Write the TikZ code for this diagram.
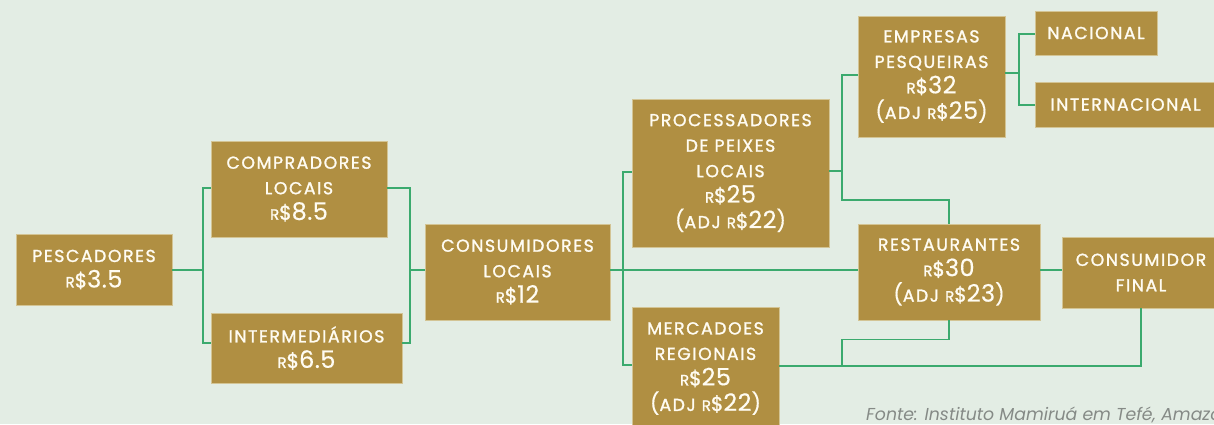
\documentclass[tikz,border=0pt]{standalone}
\usepackage{fontspec}
\setmainfont{Poppins}
\definecolor{bg}{HTML}{E3EDE4}
\definecolor{gold}{HTML}{B08F42}
\definecolor{goldedge}{HTML}{D3C494}
\definecolor{link}{HTML}{3BAA6E}
\definecolor{txt}{HTML}{FFFCF2}
\definecolor{src}{HTML}{858A86}
\newcommand\capsfont{\fontsize{17.3}{25.5}\selectfont\addfontfeature{LetterSpace=9,FakeBold=1.4}}
\newcommand\smR{{\fontsize{15}{15}\selectfont R}}
\newcommand\price[1]{\smR{\fontsize{20}{20}\selectfont\$}{\fontsize{24}{24}\selectfont\addfontfeature{LetterSpace=2,FakeBold=0.3}#1}}
\newcommand\adj[1]{{\fontsize{21}{21}\selectfont\addfontfeature{FakeBold=0.3}(}ADJ \price{#1}{\fontsize{21}{21}\selectfont\addfontfeature{FakeBold=0.3})}}
\begin{document}
\begin{tikzpicture}[x=1pt,y=-1pt,
  box/.style={fill=gold, draw=goldedge, line width=0.8pt, text=txt, inner sep=0pt, align=center, font=\capsfont},
  conn/.style={draw=link, line width=1.8pt}]
\path[use as bounding box, fill=bg] (0,0) rectangle (1214,424);
\clip (0,0) rectangle (1214,424);
% nodes
\node[box, minimum width=156pt, minimum height=71pt] (pesc) at (94,269.5) {PESCADORES\\\price{3.5}};
\node[box, minimum width=176pt, minimum height=96pt] (comp) at (299,189) {COMPRADORES\\LOCAIS\\\price{8.5}};
\node[box, minimum width=191pt, minimum height=70pt] (inter) at (306.5,348) {INTERMEDIÁRIOS\\\price{6.5}};
\node[box, minimum width=185pt, minimum height=96pt] (cons) at (517.5,272) {CONSUMIDORES\\LOCAIS\\\price{12}};
\node[box, minimum width=197pt, minimum height=148pt] (proc) at (730.5,173) {PROCESSADORES\\DE PEIXES\\LOCAIS\\\price{25}\\\adj{22}};
\node[box, minimum width=147pt, minimum height=123pt] (merc) at (705.5,368.5) {MERCADOES\\REGIONAIS\\\price{25}\\\adj{22}};
\node[box, minimum width=147pt, minimum height=121pt] (emp) at (931.5,76.5) {EMPRESAS\\PESQUEIRAS\\\price{32}\\\adj{25}};
\node[box, minimum width=122pt, minimum height=44pt] (nac) at (1096,33) {NACIONAL};
\node[box, minimum width=181pt, minimum height=45pt] (intl) at (1125.5,104.5) {INTERNACIONAL};
\node[box, minimum width=182pt, minimum height=96pt] (rest) at (949,272) {RESTAURANTES\\\price{30}\\\adj{23}};
\node[box, minimum width=158pt, minimum height=71pt] (cfin) at (1141,272.5) {CONSUMIDOR\\FINAL};
\node[anchor=base west, inner sep=0pt, text=src, font=\itshape\fontsize{17.3}{17.3}\selectfont] (fonte) at (866,420) {Fonte: Instituto Mamiruá em Tefé, Amazonas};
% junctions
\coordinate (ja) at (203,270);
\coordinate (jb) at (410,270);
\coordinate (jc) at (623,270);
\coordinate (jd) at (842,171);
\coordinate (je) at (949,200);
\coordinate (jf) at (1019,73);
\coordinate (jg) at (842,366);
% connectors
\draw[conn] (pesc.east |- ja) -- (ja);
\draw[conn] ([yshift=1pt]comp.west) -| (ja) |- ([yshift=5pt]inter.west);
\draw[conn] ([yshift=1pt]comp.east) -| (jb) |- ([yshift=5pt]inter.east);
\draw[conn] (jb) -- (cons.west |- jb);
\draw[conn] (cons.east |- jc) -- (rest.west |- jc);
\draw[conn] ([yshift=1pt]proc.west) -| (jc) |- ([yshift=3.5pt]merc.west);
\draw[conn] ([yshift=2pt]proc.east) -- (jd) |- ([yshift=1.5pt]emp.west);
\draw[conn] (jd) |- (je) -- (rest.north);
\draw[conn] ([yshift=3.5pt]emp.east) -- (jf);
\draw[conn] ([yshift=-1pt]nac.west) -| (jf) |- ([yshift=-0.5pt]intl.west);
\draw[conn] (rest.east |- jc) -- (cfin.west |- jc);
\draw[conn] ([yshift=2.5pt]merc.east) -| (cfin.south);
\draw[conn] (rest.south) -- ++(0,19) -| (jg);
\end{tikzpicture}
\end{document}
